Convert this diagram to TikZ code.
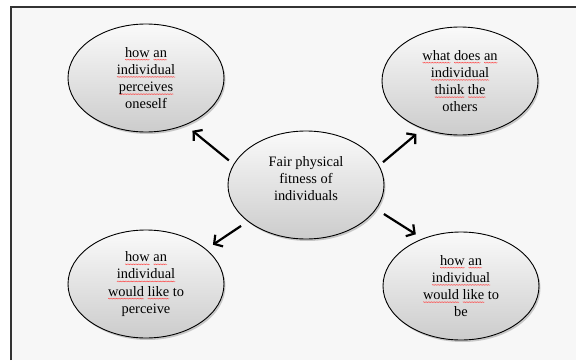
\documentclass[tikz,border=0pt]{standalone}
\usepackage{fontspec}
\setmainfont{Liberation Serif}
\usetikzlibrary{shapes.geometric, shadows, arrows.meta, decorations.pathmorphing}
\usepackage{xcolor}

\definecolor{pagegray}{HTML}{F7F7F7}
\definecolor{framegray}{HTML}{333333}
\newsavebox{\spellbox}
\newcommand{\spell}[1]{\sbox{\spellbox}{#1}\rlap{\tikz[baseline=0pt]\draw[red!75, line width=0.3pt, decorate, decoration={zigzag, amplitude=0.5pt, segment length=1.6pt}] (0pt,-2.6pt) -- (\wd\spellbox,-2.6pt);}\usebox{\spellbox}}

\begin{document}
\begin{tikzpicture}[x=1pt, y=1pt,
    bubble/.style={ellipse, draw=black, line width=0.9pt,
        minimum width=156pt, minimum height=108pt, inner sep=0pt, align=center,
        top color=gray!4, bottom color=gray!40,
        drop shadow={shadow xshift=1.5pt, shadow yshift=-2pt, opacity=0.4},
        font=\fontsize{14.4}{17.2}\selectfont},
    link/.style={-{Straight Barb[length=6pt,width=14pt]}, line width=2.2pt}]
    \useasboundingbox (0,0) rectangle (576,360);
    \fill[pagegray] (11,0) rectangle (576,353);
    \draw[framegray, line width=1.5pt] (11,0) -- (11,353) -- (576,353);

    \node[bubble, text depth=13pt] (fit) at (306,175) {Fair physical\\fitness of\\individuals};
    \node[bubble] (self) at (146,282) {\spell{how} \spell{an}\\\spell{individual}\\\spell{perceives}\\oneself};
    \node[bubble] (others) at (460,279) {\spell{what} \spell{does} \spell{an}\\\spell{individual}\\\spell{think} \spell{the}\\others};
    \node[bubble] (wish) at (146,76) {\spell{how} \spell{an}\\\spell{individual}\\\spell{would} \spell{like} to\\perceive};
    \node[bubble] (ideal) at (461,74) {\spell{how} \spell{an}\\\spell{individual}\\\spell{would} \spell{like} to\\be};

    \draw[link, shorten <=6pt, shorten >=9pt] (fit.164) -- (self.-50);
    \draw[link, shorten <=5pt, shorten >=8pt] (fit.15) -- (others.232);
    \draw[link, shorten <=8pt, shorten >=8pt] (fit.212) -- (wish.30);
    \draw[link, shorten <=9pt, shorten >=8pt] (fit.-19) -- (ideal.129);
\end{tikzpicture}
\end{document}
